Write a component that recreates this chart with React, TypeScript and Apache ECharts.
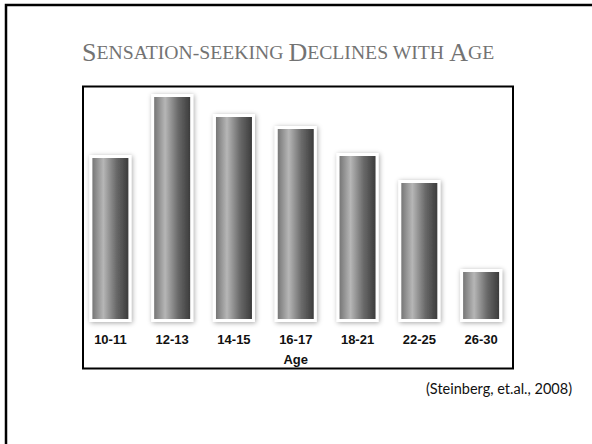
import React, { useEffect, useRef } from "react";
import * as echarts from "echarts";

const ageGroups = ["10-11", "12-13", "14-15", "16-17", "18-21", "22-25", "26-30"];
const sensationSeeking = [167, 228, 208, 196, 169, 142, 53];
const axisName = "Age";
const citation = "(Steinberg, et.al., 2008)";

export default function App() {
  const ref = useRef<HTMLDivElement>(null);
  useEffect(() => {
    if (!ref.current) return;
    const chart = echarts.init(ref.current, null, { renderer: "svg" });
    const barGradient = new echarts.graphic.LinearGradient(0, 0, 1, 0, [
      { offset: 0, color: "#6e6e6e" },
      { offset: 0.32, color: "#b6b6b6" },
      { offset: 0.65, color: "#6a6a6a" },
      { offset: 1, color: "#363636" },
    ]);
    chart.setOption({
      animation: false,
      backgroundColor: "#ffffff",
      title: {
        text: "{b|S}{s|ENSATION-SEEKING }{b|D}{s|ECLINES WITH }{b|A}{s|GE}",
        left: 82,
        top: 39,
        padding: 0,
        textStyle: {
          fontWeight: "normal",
          rich: {
            b: { fontFamily: "Liberation Serif", fontWeight: "normal", fontSize: 26, color: "#737373" },
            s: { fontFamily: "Liberation Serif", fontWeight: "normal", fontSize: 19.7, color: "#737373" },
          },
        },
      },
      grid: { left: 79.5, right: 80, top: 82, bottom: 122, containLabel: false },
      xAxis: {
        type: "category",
        data: ageGroups,
        name: axisName,
        nameLocation: "middle",
        nameGap: 31,
        nameTextStyle: { fontFamily: "Liberation Sans", fontWeight: "bold", fontSize: 13, color: "#111" },
        axisLine: { show: false },
        axisTick: { show: false },
        axisLabel: { fontFamily: "Liberation Sans", fontWeight: "bold", fontSize: 13, color: "#111", margin: 11 },
      },
      yAxis: { type: "value", min: 0, max: 240, show: false },
      series: [
        {
          type: "bar",
          data: sensationSeeking,
          barWidth: 42,
          itemStyle: {
            color: barGradient,
            borderColor: "#ffffff",
            borderWidth: 3,
            shadowBlur: 5,
            shadowColor: "rgba(0,0,0,0.35)",
            shadowOffsetX: 1,
            shadowOffsetY: 1,
          },
        },
      ],
      graphic: [
        {
          type: "rect",
          shape: { x: 6, y: 5, width: 700, height: 600 },
          style: { fill: "none", stroke: "#000", lineWidth: 2.5 },
          silent: true,
        },
        {
          type: "rect",
          shape: { x: 83, y: 86.5, width: 430, height: 282 },
          style: { fill: "none", stroke: "#000", lineWidth: 2 },
          silent: true,
        },
        {
          type: "text",
          x: 426,
          y: 381,
          style: { text: citation, fontFamily: "Lato", fontSize: 14.5, fill: "#111" },
          silent: true,
        },
      ],
    });
    return () => chart.dispose();
  }, []);
  return <div ref={ref} style={{ position: "fixed", left: 0, top: 0, width: 592, height: 444 }} />;
}
